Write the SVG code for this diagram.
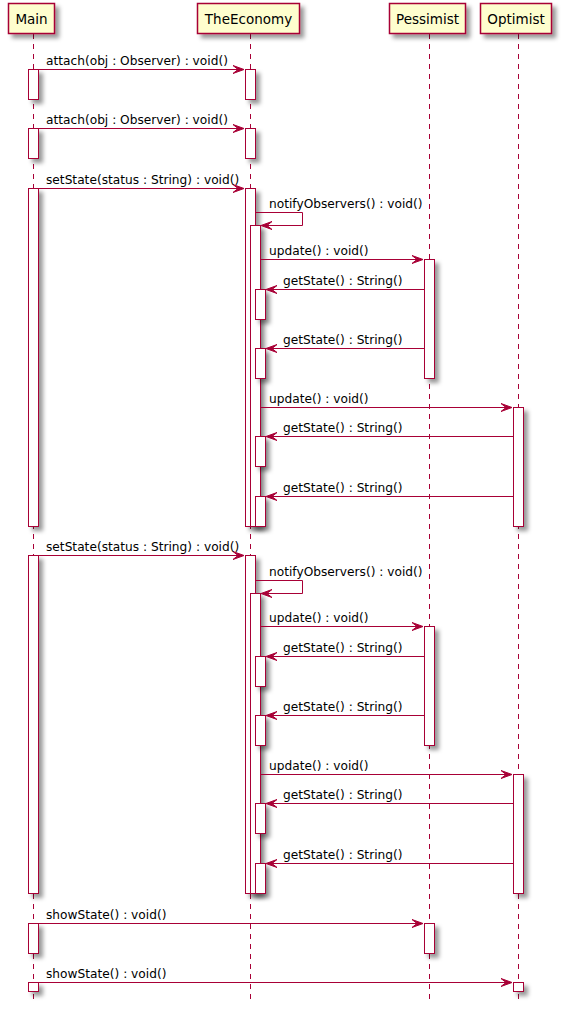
<svg xmlns="http://www.w3.org/2000/svg" width="562" height="1011" viewBox="0 0 562 1011">
  <defs>
    <filter id="shadow" x="-1" y="-1" width="300%" height="300%">
      <feGaussianBlur in="SourceAlpha" stdDeviation="2" result="b"/>
      <feColorMatrix in="b" type="matrix" values="0 0 0 0 0  0 0 0 0 0  0 0 0 0 0  0 0 0 0.4 0" result="b2"/>
      <feOffset in="b2" dx="4" dy="4" result="b3"/>
      <feBlend in="SourceGraphic" in2="b3" mode="normal"/>
    </filter>
    <style>
      .head { fill: #FEFECE; stroke: #A80036; stroke-width: 1.5; filter: url(#shadow); }
      .headtxt { font-family: "DejaVu Sans", sans-serif; font-size: 13.5px; fill: #000; text-anchor: middle; }
      .life { stroke: #A80036; stroke-width: 1; stroke-dasharray: 5,5; fill: none; }
      .bar { fill: #FFFFFF; stroke: #A80036; stroke-width: 1; filter: url(#shadow); }
      .msg { stroke: #A80036; stroke-width: 1; fill: none; }
      .head-arrow { fill: #A80036; stroke: #A80036; stroke-width: 1; }
      .lbl { font-family: "DejaVu Sans", sans-serif; font-size: 12.2px; fill: #000; }
    </style>
  </defs>
  <rect width="562" height="1011" fill="#FFFFFF"/>

  <!-- lifelines -->
  <g id="lifelines">
    <line class="life" x1="33.5" y1="34" x2="33.5" y2="1001"/>
    <line class="life" x1="250.5" y1="34" x2="250.5" y2="1001"/>
    <line class="life" x1="429.5" y1="34" x2="429.5" y2="1001"/>
    <line class="life" x1="518.5" y1="34" x2="518.5" y2="1001"/>
  </g>

  <!-- participant: Main -->
  <g id="main">
    <rect class="head" x="8.5" y="3.5" width="46" height="30"/>
    <text class="headtxt" x="31.5" y="24">Main</text>
    <rect class="bar" x="28.5" y="69.5" width="10" height="30"/>
    <rect class="bar" x="28.5" y="128.5" width="10" height="30"/>
    <rect class="bar" x="28.5" y="188.5" width="10" height="338"/>
    <rect class="bar" x="28.5" y="555.5" width="10" height="338"/>
    <rect class="bar" x="28.5" y="923.5" width="10" height="30"/>
    <rect class="bar" x="28.5" y="982.5" width="10" height="9"/>
  </g>

  <!-- participant: TheEconomy -->
  <g id="theeconomy">
    <rect class="head" x="197.5" y="3.5" width="102" height="30"/>
    <text class="headtxt" x="248.5" y="24">TheEconomy</text>
    <rect class="bar" x="245.5" y="69.5" width="10" height="30"/>
    <rect class="bar" x="245.5" y="128.5" width="10" height="30"/>
    <!-- first setState -->
    <rect class="bar" x="245.5" y="188.5" width="10" height="338"/>
    <rect class="bar" x="250.5" y="225.5" width="10" height="301"/>
    <rect class="bar" x="255.5" y="289.5" width="10" height="30"/>
    <rect class="bar" x="255.5" y="348.5" width="10" height="30"/>
    <rect class="bar" x="255.5" y="436.5" width="10" height="30"/>
    <rect class="bar" x="255.5" y="496.5" width="10" height="30"/>
    <!-- second setState -->
    <rect class="bar" x="245.5" y="555.5" width="10" height="338"/>
    <rect class="bar" x="250.5" y="593.5" width="10" height="300"/>
    <rect class="bar" x="255.5" y="656.5" width="10" height="30"/>
    <rect class="bar" x="255.5" y="715.5" width="10" height="30"/>
    <rect class="bar" x="255.5" y="803.5" width="10" height="30"/>
    <rect class="bar" x="255.5" y="863.5" width="10" height="30"/>
  </g>

  <!-- participant: Pessimist -->
  <g id="pessimist">
    <rect class="head" x="389.5" y="3.5" width="76" height="30"/>
    <text class="headtxt" x="427.5" y="24">Pessimist</text>
    <rect class="bar" x="424.5" y="259.5" width="10" height="119"/>
    <rect class="bar" x="424.5" y="626.5" width="10" height="119"/>
    <rect class="bar" x="424.5" y="923.5" width="10" height="30"/>
  </g>

  <!-- participant: Optimist -->
  <g id="optimist">
    <rect class="head" x="480.5" y="3.5" width="71" height="30"/>
    <text class="headtxt" x="516" y="24">Optimist</text>
    <rect class="bar" x="513.5" y="407.5" width="10" height="119"/>
    <rect class="bar" x="513.5" y="774.5" width="10" height="119"/>
    <rect class="bar" x="513.5" y="982.5" width="10" height="9"/>
  </g>

  <!-- messages -->
  <g id="connectors">
    <!-- attach x2 -->
    <line class="msg" x1="38.5" y1="69.5" x2="240" y2="69.5"/>
    <polygon class="head-arrow" points="233,65.5 244,69.5 233,73.5 238,69.5"/>
    <text class="lbl" x="46" y="65">attach(obj : Observer) : void()</text>

    <line class="msg" x1="38.5" y1="128.5" x2="240" y2="128.5"/>
    <polygon class="head-arrow" points="233,124.5 244,128.5 233,132.5 238,128.5"/>
    <text class="lbl" x="46" y="124">attach(obj : Observer) : void()</text>

    <!-- first setState -->
    <line class="msg" x1="38.5" y1="188.5" x2="240" y2="188.5"/>
    <polygon class="head-arrow" points="233,184.5 244,188.5 233,192.5 238,188.5"/>
    <text class="lbl" x="46" y="184">setState(status : String) : void()</text>

    <polyline class="msg" points="255.5,212.5 302.5,212.5 302.5,225.5 266,225.5"/>
    <polygon class="head-arrow" points="272,221.5 261,225.5 272,229.5 267,225.5"/>
    <text class="lbl" x="269" y="208">notifyObservers() : void()</text>

    <line class="msg" x1="260.5" y1="259.5" x2="419" y2="259.5"/>
    <polygon class="head-arrow" points="412,255.5 423,259.5 412,263.5 417,259.5"/>
    <text class="lbl" x="269" y="255">update() : void()</text>

    <line class="msg" x1="424.5" y1="289.5" x2="271" y2="289.5"/>
    <polygon class="head-arrow" points="277,285.5 266,289.5 277,293.5 272,289.5"/>
    <text class="lbl" x="283" y="285">getState() : String()</text>

    <line class="msg" x1="424.5" y1="348.5" x2="271" y2="348.5"/>
    <polygon class="head-arrow" points="277,344.5 266,348.5 277,352.5 272,348.5"/>
    <text class="lbl" x="283" y="344">getState() : String()</text>

    <line class="msg" x1="260.5" y1="407.5" x2="508" y2="407.5"/>
    <polygon class="head-arrow" points="501,403.5 512,407.5 501,411.5 506,407.5"/>
    <text class="lbl" x="269" y="403">update() : void()</text>

    <line class="msg" x1="513.5" y1="436.5" x2="271" y2="436.5"/>
    <polygon class="head-arrow" points="277,432.5 266,436.5 277,440.5 272,436.5"/>
    <text class="lbl" x="283" y="432">getState() : String()</text>

    <line class="msg" x1="513.5" y1="496.5" x2="271" y2="496.5"/>
    <polygon class="head-arrow" points="277,492.5 266,496.5 277,500.5 272,496.5"/>
    <text class="lbl" x="283" y="492">getState() : String()</text>

    <!-- second setState -->
    <line class="msg" x1="38.5" y1="555.5" x2="240" y2="555.5"/>
    <polygon class="head-arrow" points="233,551.5 244,555.5 233,559.5 238,555.5"/>
    <text class="lbl" x="46" y="551">setState(status : String) : void()</text>

    <polyline class="msg" points="255.5,580.5 302.5,580.5 302.5,593.5 266,593.5"/>
    <polygon class="head-arrow" points="272,589.5 261,593.5 272,597.5 267,593.5"/>
    <text class="lbl" x="269" y="576">notifyObservers() : void()</text>

    <line class="msg" x1="260.5" y1="626.5" x2="419" y2="626.5"/>
    <polygon class="head-arrow" points="412,622.5 423,626.5 412,630.5 417,626.5"/>
    <text class="lbl" x="269" y="622">update() : void()</text>

    <line class="msg" x1="424.5" y1="656.5" x2="271" y2="656.5"/>
    <polygon class="head-arrow" points="277,652.5 266,656.5 277,660.5 272,656.5"/>
    <text class="lbl" x="283" y="652">getState() : String()</text>

    <line class="msg" x1="424.5" y1="715.5" x2="271" y2="715.5"/>
    <polygon class="head-arrow" points="277,711.5 266,715.5 277,719.5 272,715.5"/>
    <text class="lbl" x="283" y="711">getState() : String()</text>

    <line class="msg" x1="260.5" y1="774.5" x2="508" y2="774.5"/>
    <polygon class="head-arrow" points="501,770.5 512,774.5 501,778.5 506,774.5"/>
    <text class="lbl" x="269" y="770">update() : void()</text>

    <line class="msg" x1="513.5" y1="803.5" x2="271" y2="803.5"/>
    <polygon class="head-arrow" points="277,799.5 266,803.5 277,807.5 272,803.5"/>
    <text class="lbl" x="283" y="799">getState() : String()</text>

    <line class="msg" x1="513.5" y1="863.5" x2="271" y2="863.5"/>
    <polygon class="head-arrow" points="277,859.5 266,863.5 277,867.5 272,863.5"/>
    <text class="lbl" x="283" y="859">getState() : String()</text>

    <!-- showState x2 -->
    <line class="msg" x1="38.5" y1="923.5" x2="419" y2="923.5"/>
    <polygon class="head-arrow" points="412,919.5 423,923.5 412,927.5 417,923.5"/>
    <text class="lbl" x="46" y="919">showState() : void()</text>

    <line class="msg" x1="38.5" y1="982.5" x2="508" y2="982.5"/>
    <polygon class="head-arrow" points="501,978.5 512,982.5 501,986.5 506,982.5"/>
    <text class="lbl" x="46" y="978">showState() : void()</text>
  </g>
</svg>
